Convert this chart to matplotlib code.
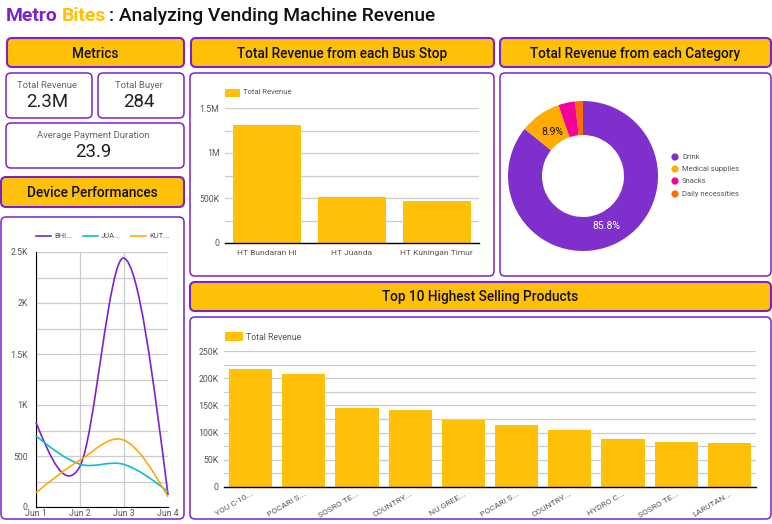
import numpy as np
import matplotlib
matplotlib.use("Agg")
import matplotlib.pyplot as plt
from matplotlib.patches import FancyBboxPatch, PathPatch, Rectangle, Circle
from matplotlib.path import Path
from matplotlib.lines import Line2D

plt.rcParams['font.family'] = ['Roboto', 'DejaVu Sans']

bus_stops = ["HT Bundaran HI", "HT Juanda", "HT Kuningan Timur"]
bus_revenue = [1311000, 511000, 467000]
categories = ["Drink", "Medical supplies", "Snacks", "Daily necessities"]
category_share = [85.8, 8.9, 3.6, 1.7]
products = ["YOU C-10...", "POCARI S...", "SOSRO TE...", "COUNTRY...", "NU GREE...",
            "POCARI S...", "COUNTRY...", "HYDRO C...", "SOSRO TE...", "LARUTAN..."]
product_revenue = [217000, 208000, 145000, 142000, 123000, 114000, 105000, 88000, 82500, 81000]
days = ["Jun 1", "Jun 2", "Jun 3", "Jun 4"]
device_names = ["BHI...", "JUA...", "KUT..."]
bhi = [828, 400, 2440, 117]
jua = [697, 420, 417, 150]
kut = [140, 460, 655, 100]

PURPLE = "#7B22D0"
YELLOW = "#FFC107"
GRID = "#CCCCCC"
TICK = "#555555"
W, H = 772, 524

fig = plt.figure(figsize=(W / 100, H / 100), dpi=100, facecolor="white")
bg = fig.add_axes([0, 0, 1, 1])
bg.set_xlim(0, W)
bg.set_ylim(H, 0)
bg.axis("off")


def box(x0, y0, x1, y1, fc="white", lw=1.1):
    bg.add_patch(FancyBboxPatch((x0 + 3, y0 + 3), x1 - x0 - 6, y1 - y0 - 6,
                                boxstyle="round,pad=3,rounding_size=5",
                                fc=fc, ec=PURPLE, lw=lw, mutation_aspect=1))


def header(x0, y0, x1, y1, label, dy=1.2):
    box(x0, y0, x1, y1, fc=YELLOW, lw=1.5)
    bg.text((x0 + x1) / 2, (y0 + y1) / 2 + dy, label, ha="center", va="center",
            fontsize=9.8, fontweight="medium", color="#111111")


def metric(x0, y0, x1, y1, label, value):
    box(x0, y0, x1, y1)
    cx = (x0 + x1) / 2 - 2.2
    bg.text(cx, y0 + 12, label, ha="center", va="center", fontsize=6.8, color="#666666")
    bg.text(cx, y0 + 29, value, ha="center", va="center", fontsize=13.4, color="#222222")


def axes_px(x0, ytop, x1, ybot):
    ax = fig.add_axes([x0 / W, 1 - ybot / H, (x1 - x0) / W, (ybot - ytop) / H])
    ax.patch.set_alpha(0)
    for s in ax.spines.values():
        s.set_visible(False)
    ax.tick_params(length=0, labelsize=6.3, labelcolor=TICK, pad=4)
    ax.set_axisbelow(True)
    return ax


# title
bg.text(6, 16, "Metro", fontsize=13.85, fontweight="bold", color=PURPLE, va="center")
bg.text(62, 16, "Bites", fontsize=13.85, fontweight="bold", color=YELLOW, va="center")
bg.text(109, 16, ": Analyzing Vending Machine Revenue", fontsize=13.85, fontweight="medium",
        color="#111111", va="center")

# panels
header(7, 38, 184, 67, "Metrics")
metric(6, 73, 92, 118, "Total Revenue", "2.3M")
metric(98, 73, 184, 118, "Total Buyer", "284")
metric(6, 123, 184, 168, "Average Payment Duration", "23.9")
header(1, 177, 184, 207, "Device Performances")
box(1, 217, 184, 519)
header(191, 38, 494, 67, "Total Revenue from each Bus Stop")
box(190, 73, 494, 276)
header(500, 38, 771, 67, "Total Revenue from each Category")
box(500, 73, 771, 276)
header(190, 282, 771, 311, "Top 10 Highest Selling Products", dy=0.3)
box(190, 317, 771, 519)


def thousands(v):
    if v < 1000:
        return f"{v:g}"
    if v >= 1e6:
        return f"{v / 1e6:g}M"
    return f"{v / 1e3:g}K"


# bus stop chart
ax = axes_px(225, 108, 479, 243)
ax.bar(range(3), bus_revenue, width=0.8, color=YELLOW, zorder=2)
ax.set_xlim(-0.5, 2.5)
ax.set_ylim(0, 1500000)
ax.set_yticks(np.arange(0, 1500001, 500000))
ax.set_yticks(np.arange(0, 1500001, 250000), minor=True)
ax.set_yticklabels([thousands(v) for v in ax.get_yticks()])
ax.tick_params(axis="y", which="minor", length=0)
ax.grid(axis="y", which="both", color=GRID, lw=0.9)
ax.set_xticks(range(3))
ax.set_xticklabels(bus_stops)
ax.tick_params(axis="x", pad=5, labelsize=6.0)
ax.spines["bottom"].set_visible(True)
ax.spines["bottom"].set_color("black")
ax.spines["bottom"].set_linewidth(1)
bg.add_patch(Rectangle((225, 89), 15, 8, fc=YELLOW, ec="none"))
bg.text(243, 92.5, "Total Revenue", fontsize=5.5, color=TICK, va="center")

# top products chart
ax = axes_px(224, 351.3, 756, 486.7)
ax.bar(range(10), product_revenue, width=0.81, color=YELLOW, zorder=2)
ax.set_xlim(-0.5, 9.5)
ax.set_ylim(0, 250000)
ax.set_yticks(np.arange(0, 250001, 50000))
ax.set_yticks(np.arange(0, 250001, 25000), minor=True)
ax.set_yticklabels([thousands(v) for v in ax.get_yticks()])
ax.tick_params(axis="y", which="minor", length=0)
ax.grid(axis="y", which="both", color=GRID, lw=0.9)
ax.set_xticks(range(10))
ax.set_xticklabels(products, rotation=30, ha="right", rotation_mode="anchor")
ax.tick_params(axis="x", pad=3, labelsize=6.0)
ax.spines["bottom"].set_visible(True)
ax.spines["bottom"].set_color("black")
ax.spines["bottom"].set_linewidth(1)
bg.add_patch(Rectangle((225, 332), 18, 9, fc=YELLOW, ec="none"))
bg.text(246, 337, "Total Revenue", fontsize=6.3, color=TICK, va="center")

# donut
size = 150
ax = fig.add_axes([(583 - size / 2) / W, 1 - (176 + size / 2) / H, size / W, size / H])
colors = ["#7F2FCB", "#FFAB00", "#F5009B", "#FF6D00"]
ax.pie(category_share, colors=colors, startangle=90, counterclock=False, radius=1,
       wedgeprops=dict(width=34 / 75, edgecolor="none"))
ax.set_xlim(-1, 1)
ax.set_ylim(-1, 1)
ax.text(0.98 * np.sin(np.radians(360 * 0.429)) * 0.75, 0.98 * np.cos(np.radians(360 * 0.429)) * 0.75,
        f"{category_share[0]}%", color="white", fontsize=7.5, ha="center", va="center")
ax.text(np.sin(np.radians(360 * (category_share[0] + category_share[1] / 2) / 100)) * 0.71,
        np.cos(np.radians(360 * (category_share[0] + category_share[1] / 2) / 100)) * 0.71,
        f"{category_share[1]}%", color="#111111", fontsize=7.5, ha="center", va="center")
for name, col, y in zip(categories, colors, [157, 169, 181, 194]):
    bg.add_patch(Circle((675, y), 3.6, fc=col, ec="none"))
    bg.text(682, y, name, fontsize=5.5, color=TICK, va="center")


# line chart
def tangents(y):
    """Catmull-Rom slopes for drawing a smooth curve through one series."""
    y = np.asarray(y, float)
    m = np.zeros(len(y))
    m[1:-1] = (y[2:] - y[:-2]) / 2
    m[0] = (3 * (y[1] - y[0]) - m[1]) / 2
    m[-1] = (3 * (y[-1] - y[-2]) - m[-2]) / 2
    return m


def smooth_path(y):
    m = tangents(y)
    verts = [(0, y[0])]
    codes = [Path.MOVETO]
    for i in range(len(y) - 1):
        verts += [(i + 1 / 3, y[i] + m[i] / 3), (i + 2 / 3, y[i + 1] - m[i + 1] / 3), (i + 1, y[i + 1])]
        codes += [Path.CURVE4] * 3
    return Path(verts, codes)


ax = axes_px(36, 252, 168, 507)
ax.set_xlim(0, 3)
ax.set_ylim(0, 2500)
ax.set_yticks(np.arange(0, 2501, 500))
ax.set_yticks(np.arange(0, 2501, 250), minor=True)
ax.set_yticklabels([thousands(v) for v in ax.get_yticks()])
ax.tick_params(axis="y", which="minor", length=0)
ax.set_xticks(range(4))
ax.set_xticklabels(days)
ax.tick_params(axis="x", pad=1.5)
ax.tick_params(axis="y", pad=6)
ax.grid(axis="both", which="major", color=GRID, lw=0.9)
ax.grid(axis="y", which="minor", color=GRID, lw=0.9)
ax.spines["left"].set_visible(True)
ax.spines["bottom"].set_visible(True)
ax.spines["left"].set_color("black")
ax.spines["bottom"].set_color("black")
line_colors = ["#7B22D0", "#10BCD2", "#FFA90A"]
for series, col in zip([bhi, jua, kut], line_colors):
    ax.add_patch(PathPatch(smooth_path(series), fc="none", ec=col, lw=1.2, clip_on=False, zorder=3))
for name, col, x in zip(device_names, line_colors, [36, 83, 131]):
    bg.add_line(Line2D([x, x + 15], [236, 236], color=col, lw=1.2))
    bg.text(x + 18, 236, name, fontsize=5.5, color=TICK, va="center")

fig.savefig("out.png", dpi=100)
